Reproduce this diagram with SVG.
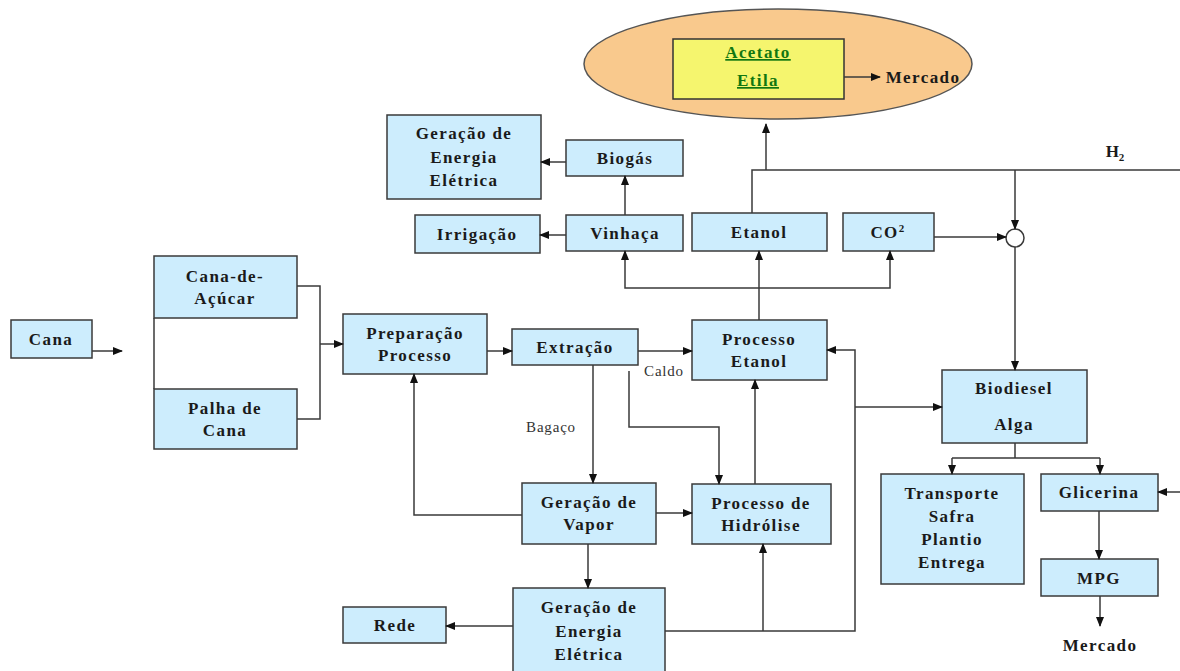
<svg xmlns="http://www.w3.org/2000/svg" width="1180" height="671" viewBox="0 0 1180 671">
<style>
.n rect{fill:#cdedfd;stroke:#3a3a3a;stroke-width:1.5}
text{font-family:"Liberation Serif","Times New Roman",serif;font-size:17px;font-weight:bold;fill:#1a1a1a;text-anchor:middle;letter-spacing:1.4px}
.lb{font-weight:normal;font-size:15px;letter-spacing:0.8px;fill:#333}
.c path,.c line{fill:none;stroke:#3a3a3a;stroke-width:1.5}
.g{fill:#117711;text-decoration:underline}
</style>
<defs>
<marker id="a" markerWidth="10" markerHeight="10" refX="9" refY="5" orient="auto" markerUnits="userSpaceOnUse">
<path d="M0,1 L10,5 L0,9 Z" fill="#111"/>
</marker>
</defs>
<rect width="1180" height="671" fill="#fff"/>
<g id="acetato">
<ellipse cx="778" cy="64" rx="194" ry="55" fill="#f9c98d" stroke="#555" stroke-width="1.5"/>
<rect x="673" y="39" width="171" height="60" fill="#f5f56e" stroke="#333" stroke-width="1.5"/>
<text class="g" x="758" y="58">Acetato</text>
<text class="g" x="758" y="86">Etila</text>
<text x="923" y="83">Mercado</text>
</g>
<g id="geracao-top" class="n"><rect x="387" y="115" width="154" height="84"/><text x="464" y="139">Geração de</text><text x="464" y="163">Energia</text><text x="464" y="186">Elétrica</text></g>
<g id="biogas" class="n"><rect x="566" y="140" width="117" height="36"/><text x="625" y="164">Biogás</text></g>
<g id="irrigacao" class="n"><rect x="415" y="215" width="125" height="38"/><text x="477" y="240">Irrigação</text></g>
<g id="vinhaca" class="n"><rect x="566" y="215" width="117" height="36"/><text x="625" y="239">Vinhaça</text></g>
<g id="etanol" class="n"><rect x="692" y="213" width="135" height="38"/><text x="759" y="238">Etanol</text></g>
<g id="co2" class="n"><rect x="843" y="213" width="91" height="38"/><text x="888" y="238">CO<tspan font-size="11" dy="-6">2</tspan></text></g>
<g id="mistura"><circle cx="1015" cy="238" r="9" fill="#fff" stroke="#3a3a3a" stroke-width="1.5"/></g>
<g id="h2"><text x="1115" y="157" style="letter-spacing:0">H<tspan font-size="11" dy="4">2</tspan></text></g>
<g id="cana" class="n"><rect x="11" y="320" width="81" height="38"/><text x="51" y="345">Cana</text></g>
<g id="cana-acucar" class="n"><rect x="154" y="256" width="143" height="62"/><text x="225" y="282">Cana-de-</text><text x="225" y="304">Açúcar</text></g>
<g id="palha" class="n"><rect x="154" y="389" width="143" height="60"/><text x="225" y="414">Palha de</text><text x="225" y="436">Cana</text></g>
<g id="preparacao" class="n"><rect x="343" y="314" width="144" height="60"/><text x="415" y="339">Preparação</text><text x="415" y="361">Processo</text></g>
<g id="extracao" class="n"><rect x="512" y="329" width="126" height="36"/><text x="575" y="353">Extração</text></g>
<g id="processo-etanol" class="n"><rect x="692" y="320" width="135" height="60"/><text x="759" y="345">Processo</text><text x="759" y="367">Etanol</text></g>
<g id="vapor" class="n"><rect x="522" y="483" width="134" height="61"/><text x="589" y="508">Geração de</text><text x="589" y="530">Vapor</text></g>
<g id="hidrolise" class="n"><rect x="692" y="484" width="139" height="60"/><text x="761" y="509">Processo de</text><text x="761" y="531">Hidrólise</text></g>
<g id="geracao-bottom" class="n"><rect x="513" y="588" width="152" height="90"/><text x="589" y="613">Geração de</text><text x="589" y="637">Energia</text><text x="589" y="660">Elétrica</text></g>
<g id="rede" class="n"><rect x="343" y="607" width="103" height="36"/><text x="395" y="631">Rede</text></g>
<g id="biodiesel" class="n"><rect x="942" y="370" width="145" height="73"/><text x="1014" y="394">Biodiesel</text><text x="1014" y="430">Alga</text></g>
<g id="transporte" class="n"><rect x="881" y="474" width="143" height="110"/><text x="952" y="499">Transporte</text><text x="952" y="522">Safra</text><text x="952" y="545">Plantio</text><text x="952" y="568">Entrega</text></g>
<g id="glicerina" class="n"><rect x="1041" y="474" width="117" height="37"/><text x="1099" y="498">Glicerina</text></g>
<g id="mpg" class="n"><rect x="1041" y="559" width="117" height="37"/><text x="1099" y="584">MPG</text></g>
<g id="mercado-bottom"><text x="1100" y="651">Mercado</text></g>
<g id="labels"><text class="lb" x="664" y="376">Caldo</text><text class="lb" x="551" y="432">Bagaço</text></g>
<g id="connectors" class="c">
<path d="M844,77 H880" marker-end="url(#a)"/>
<path d="M92,351 H122" marker-end="url(#a)"/>
<path d="M154,318 V389"/>
<path d="M297,286 H320 V419 H297"/>
<path d="M320,344 H343" marker-end="url(#a)"/>
<path d="M487,351 H512" marker-end="url(#a)"/>
<path d="M638,351 H692" marker-end="url(#a)"/>
<path d="M759,320 V251" marker-end="url(#a)"/>
<path d="M759,288 H625 V251" marker-end="url(#a)"/>
<path d="M759,288 H890 V251" marker-end="url(#a)"/>
<path d="M625,215 V176" marker-end="url(#a)"/>
<path d="M566,162 H541" marker-end="url(#a)"/>
<path d="M566,235 H540" marker-end="url(#a)"/>
<path d="M752,213 V170 H1180"/>
<path d="M766,170 V124" marker-end="url(#a)"/>
<path d="M1015,170 V229" marker-end="url(#a)"/>
<path d="M934,237 H1006" marker-end="url(#a)"/>
<path d="M1015,247 V370" marker-end="url(#a)"/>
<path d="M593,365 V483" marker-end="url(#a)"/>
<path d="M629,371 V427 H719 V484" marker-end="url(#a)"/>
<path d="M656,513 H692" marker-end="url(#a)"/>
<path d="M755,484 V380" marker-end="url(#a)"/>
<path d="M522,515 H414 V374" marker-end="url(#a)"/>
<path d="M588,544 V588" marker-end="url(#a)"/>
<path d="M513,626 H446" marker-end="url(#a)"/>
<path d="M665,631 H855 V350 H827" marker-end="url(#a)"/>
<path d="M763,631 V544" marker-end="url(#a)"/>
<path d="M855,407 H942" marker-end="url(#a)"/>
<path d="M1015,443 V458 M952,458 H1100"/>
<path d="M952,458 V474" marker-end="url(#a)"/>
<path d="M1100,458 V474" marker-end="url(#a)"/>
<path d="M1180,492 H1158" marker-end="url(#a)"/>
<path d="M1099,511 V559" marker-end="url(#a)"/>
<path d="M1100,596 V626" marker-end="url(#a)"/>
</g>
</svg>
